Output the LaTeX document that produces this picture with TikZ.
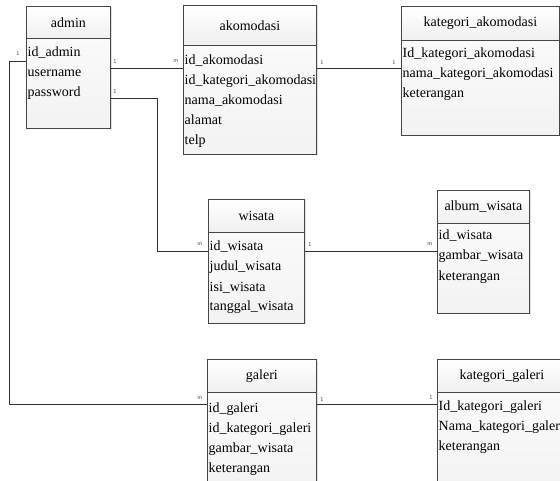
\documentclass[tikz,border=0pt]{standalone}
\usepackage{fontspec}
\setmainfont{Liberation Serif}
\begin{document}
\begin{tikzpicture}[x=1pt,y=1pt,
  hdrbox/.style={draw=gray!55!black, line width=0.8pt, top color=white, bottom color=gray!12, inner sep=0pt, font=\fontsize{14}{16}\selectfont},
  bodybox/.style={draw=gray!55!black, line width=0.8pt, top color=gray!4, bottom color=gray!10, inner sep=0pt},
  shadowbox/.style={fill=gray!25},
  field/.style={inner sep=0pt, anchor=base west, font=\fontsize{14}{16}\selectfont},
  conn/.style={draw=gray!40!black, line width=0.8pt},
  card/.style={inner sep=0pt, text=gray!60!black, font=\fontsize{6}{7}\sffamily}]
\useasboundingbox (0,0) rectangle (560,-481);
\clip (0,0) rectangle (560,-481);
\fill[white] (0,0) rectangle (560,-481);
\newcommand\entity[9]{%
  \fill[shadowbox] (#2+1.5,-#3-1.5) rectangle (#4+1.5,-#6-1.5);
  \node[hdrbox, anchor=north west, minimum width={(#4-#2)*1pt}, minimum height={(#5-#3)*1pt}] (#1-h) at (#2,-#3) {#7};
  \node[bodybox, anchor=north west, minimum width={(#4-#2)*1pt}, minimum height={(#6-#5)*1pt}] (#1) at (#2,-#5) {};
  \foreach \f [count=\i] in {#9} {\node[field] (#1-f\i) at (#2+1.5,-#8-20*\i+20) {\f};}
}
\entity{admin}{26}{6}{110}{38}{128}{admin}{57}{id\_admin,username,password}
\entity{akomodasi}{183}{5}{316}{45}{154}{akomodasi}{65}{id\_akomodasi,id\_kategori\_akomodasi,nama\_akomodasi,alamat,telp}
\entity{katakom}{401}{6}{559}{40}{135}{kategori\_akomodasi}{58}{Id\_kategori\_akomodasi,nama\_kategori\_akomodasi,keterangan}
\entity{wisata}{208}{199}{304}{232}{323}{wisata}{251}{id\_wisata,judul\_wisata,isi\_wisata,tanggal\_wisata}
\entity{album}{437}{190}{529}{223}{313}{album\_wisata}{240}{id\_wisata,gambar\_wisata,keterangan}
\entity{galeri}{207}{359}{316}{392}{495}{galeri}{412}{id\_galeri,id\_kategori\_galeri,gambar\_wisata,keterangan}
\entity{katgal}{437}{359}{566}{392}{495}{kategori\_galeri}{410}{Id\_kategori\_galeri,Nama\_kategori\_galeri,keterangan}
% connectors
\draw[conn] (admin.east |- 0,-68) -- (akomodasi.west |- 0,-68);
\draw[conn] (akomodasi.east |- 0,-68) -- (katakom.west |- 0,-68);
\draw[conn] (admin.east |- 0,-98) -| (157,-251) -- (wisata.west |- 0,-251);
\draw[conn] (wisata.east |- 0,-251) -- (album.west |- 0,-251);
\draw[conn] (admin.west |- 0,-61) -| (9,-404) -- (galeri.west |- 0,-404);
\draw[conn] (galeri.east |- 0,-404) -- (katgal.west |- 0,-404);
% cardinalities
\node[card] (c1) at (115,-61) {1};
\node[card] (c2) at (176,-61) {m};
\node[card] (c3) at (322,-62) {1};
\node[card] (c4) at (394,-62) {1};
\node[card] (c5) at (115,-91) {1};
\node[card] (c6) at (200,-244) {m};
\node[card] (c7) at (310,-244) {1};
\node[card] (c8) at (430,-244) {m};
\node[card] (c9) at (18,-53) {1};
\node[card] (c10) at (200,-398) {m};
\node[card] (c11) at (322,-399) {1};
\node[card] (c12) at (431,-397) {1};
\end{tikzpicture}
\end{document}
